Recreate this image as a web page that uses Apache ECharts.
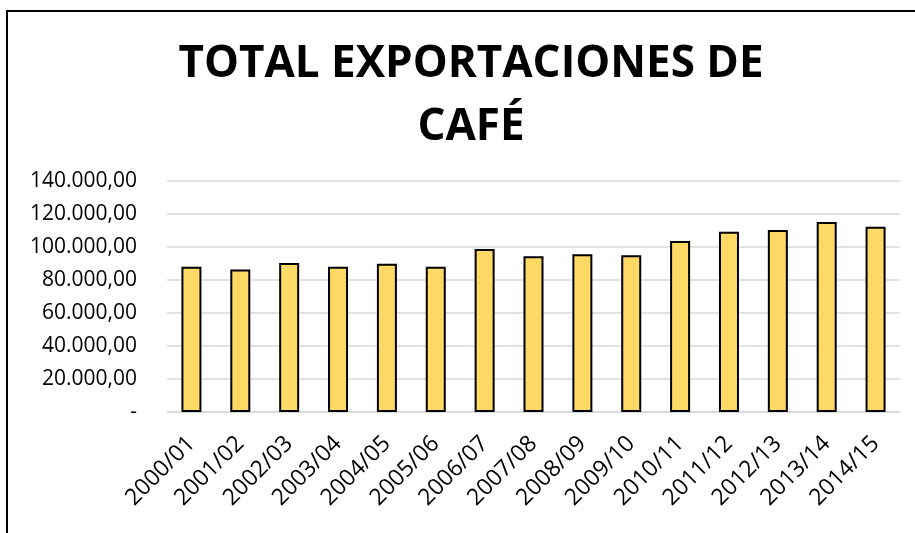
<!DOCTYPE html>
<html>
<head>
<meta charset="utf-8">
<script src="https://cdn.jsdelivr.net/npm/echarts@6/dist/echarts.min.js"></script>
<style>
  html, body { margin: 0; padding: 0; background: #fff; }
  #chart { width: 915px; height: 533px; }
</style>
</head>
<body>
<div id="chart"></div>
<script>
const categories = ['2000/01', '2001/02', '2002/03', '2003/04', '2004/05', '2005/06', '2006/07', '2007/08',
  '2008/09', '2009/10', '2010/11', '2011/12', '2012/13', '2013/14', '2014/15']
// total exportaciones
const exportaciones = [88100, 86300, 90300, 88100, 89900, 88100, 98800, 94400,
  95600, 95000, 103600, 109300, 110300, 115200, 112300]
const titleText = 'TOTAL EXPORTACIONES DE\nCAFÉ'

function fmtNumber(v) {
  if (v === 0) return '-'
  return String(v).replace(/\B(?=(\d{3})+(?!\d))/g, '.') + ',00'
}

var myChart = echarts.init(document.getElementById('chart'))
myChart.setOption({
  backgroundColor: '#fff',
  animation: false,
  title: {
    text: titleText,
    left: 466,
    textAlign: 'center',
    top: 28,
    textStyle: {
      fontFamily: 'Open Sans',
      fontWeight: 'bold',
      fontSize: 44,
      lineHeight: 63,
      color: '#000'
    }
  },
  grid: {
    left: 167,
    right: 15,
    top: 181,
    bottom: 121
  },
  xAxis: {
    type: 'category',
    data: categories,
    axisTick: { show: false },
    axisLine: { lineStyle: { color: '#d9d9d9', width: 1.5 } },
    axisLabel: {
      interval: 0,
      rotate: 45,
      margin: 28,
      fontFamily: 'Open Sans',
      fontSize: 23,
      color: '#000'
    }
  },
  yAxis: {
    type: 'value',
    min: 0,
    max: 140000,
    interval: 20000,
    axisLine: { show: false },
    axisTick: { show: false },
    axisLabel: {
      margin: 30,
      fontFamily: 'Open Sans',
      fontSize: 21,
      color: '#000',
      formatter: fmtNumber
    },
    splitLine: { lineStyle: { color: '#d9d9d9', width: 1.5 } }
  },
  series: [{
    type: 'bar',
    data: exportaciones,
    barWidth: 20,
    itemStyle: {
      color: '#FFD966',
      borderColor: '#000',
      borderWidth: 2
    }
  }],
  graphic: [
    { type: 'line', shape: { x1: 7, y1: 11, x2: 915, y2: 11 }, style: { stroke: '#000', lineWidth: 2 } },
    { type: 'line', shape: { x1: 7, y1: 10, x2: 7, y2: 533 }, style: { stroke: '#000', lineWidth: 2 } }
  ]
})
</script>
</body>
</html>
